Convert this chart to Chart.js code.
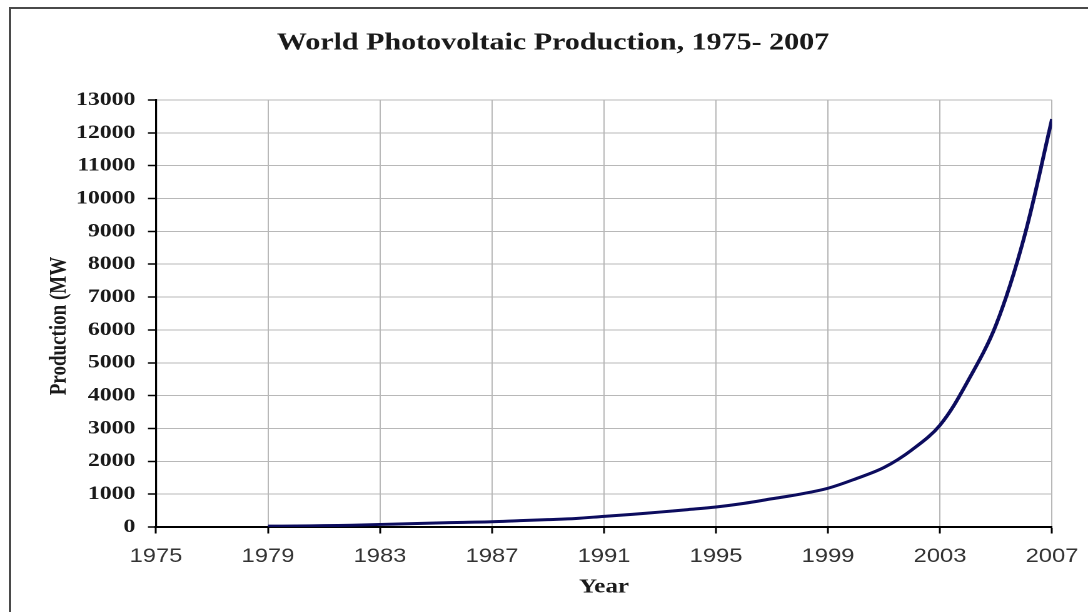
<!DOCTYPE html>
<html>
<head>
<meta charset="utf-8">
<title>World Photovoltaic Production, 1975- 2007</title>
<script src="https://cdn.jsdelivr.net/npm/chart.js@4"></script>
<style>
  html, body { margin: 0; padding: 0; background: #fff; width: 1088px; height: 612px; overflow: hidden; }
  #frame { position: absolute; left: 9px; top: 7px; width: 1200px; height: 700px;
           border-left: 2px solid #4a4a4a; border-top: 2px solid #4a4a4a; }
  /* chart is laid out 870px wide and widened to the full 1088px page */
  #wrap { position: absolute; left: 0; top: 0; width: 870px; height: 612px;
          transform: scaleX(1.25057); transform-origin: 0 0; }
</style>
</head>
<body>
<div id="frame"></div>
<div id="wrap"><canvas id="c"></canvas></div>
<script>
// Annual world photovoltaic production (MW)
const years = [1979, 1980, 1981, 1982, 1983, 1984, 1985, 1986, 1987, 1988,
               1989, 1990, 1991, 1992, 1993, 1994, 1995, 1996, 1997, 1998,
               1999, 2000, 2001, 2002, 2003, 2004, 2005, 2006, 2007];
const productionMW = [25, 30, 40, 55, 78, 100, 122, 142, 160, 195,
                      225, 260, 325, 385, 455, 530, 610, 720, 860, 1000,
                      1180, 1470, 1810, 2350, 3100, 4450, 6150, 8800, 12420];
const yearTicks = [1975, 1979, 1983, 1987, 1991, 1995, 1999, 2003, 2007];
const productionTicks = [0, 1000, 2000, 3000, 4000, 5000, 6000, 7000, 8000,
                         9000, 10000, 11000, 12000, 13000];

const chartTitle = 'World Photovoltaic Production, 1975- 2007';
const xTitle = 'Year';
const yTitle = 'Production (MW';

const serif = '"Liberation Serif", "Times New Roman", serif';
const sans = '"Liberation Sans", Arial, sans-serif';

// heading above the plot and rotated y-axis caption beside it
const captions = {
  id: 'captions',
  afterDraw(chart) {
    const { ctx, chartArea } = chart;
    ctx.save();
    ctx.fillStyle = '#1a1a1a';
    ctx.textAlign = 'center';
    ctx.textBaseline = 'middle';
    ctx.font = 'bold 24px ' + serif;
    ctx.fillText(chartTitle, 442.2, 43.5);
    ctx.translate(47.6, (chartArea.top + chartArea.bottom) / 2 + 12.5);
    ctx.rotate(-Math.PI / 2);
    ctx.font = 'bold 19px ' + serif;
    ctx.fillText(yTitle, 0, 0);
    ctx.restore();
  }
};

new Chart(document.getElementById('c'), {
  type: 'line',
  data: {
    datasets: [{
      data: years.map((y, i) => ({ x: y, y: productionMW[i] })),
      borderColor: '#0c0c5e',
      borderWidth: 3,
      pointRadius: 0,
      tension: 0.35,
      fill: false
    }]
  },
  options: {
    responsive: true,
    maintainAspectRatio: false,
    animation: false,
    devicePixelRatio: 2,
    layout: { padding: { left: 0, right: 28.8, top: 100, bottom: 0 } },
    plugins: {
      legend: { display: false },
      tooltip: { enabled: false },
      title: { display: false }
    },
    scales: {
      x: {
        type: 'linear',
        min: yearTicks[0],
        max: yearTicks[yearTicks.length - 1],
        afterBuildTicks: s => { s.ticks = yearTicks.map(v => ({ value: v })); },
        afterFit: s => { s.height = 85; s.paddingLeft = 0; s.paddingRight = 0; },
        ticks: {
          autoSkip: false,
          maxRotation: 0,
          padding: 11.8,
          color: '#333',
          font: { family: sans, size: 19 },
          callback: v => String(v)
        },
        grid: { color: '#b8b8b8', lineWidth: 1, tickLength: 6.5, tickColor: '#000', tickWidth: 1.5 },
        border: { color: '#000', width: 2 },
        title: {
          display: true,
          text: xTitle,
          color: '#1a1a1a',
          font: { family: serif, size: 20, weight: 'bold', lineHeight: 1.2 },
          padding: { top: 0, bottom: 12.5 }
        }
      },
      y: {
        min: productionTicks[0],
        max: productionTicks[productionTicks.length - 1],
        afterBuildTicks: s => { s.ticks = productionTicks.map(v => ({ value: v })); },
        afterFit: s => { s.width = 124.7; s.paddingTop = 0; s.paddingBottom = 0; },
        ticks: {
          autoSkip: false,
          padding: 10,
          color: '#1a1a1a',
          font: { family: serif, size: 19, weight: 'bold' },
          callback: v => String(v)
        },
        grid: { color: '#b8b8b8', lineWidth: 1, tickLength: 6.4, tickColor: '#000', tickWidth: 1.5 },
        border: { color: '#000', width: 1.6 }
      }
    }
  },
  plugins: [captions]
});
</script>
</body>
</html>
